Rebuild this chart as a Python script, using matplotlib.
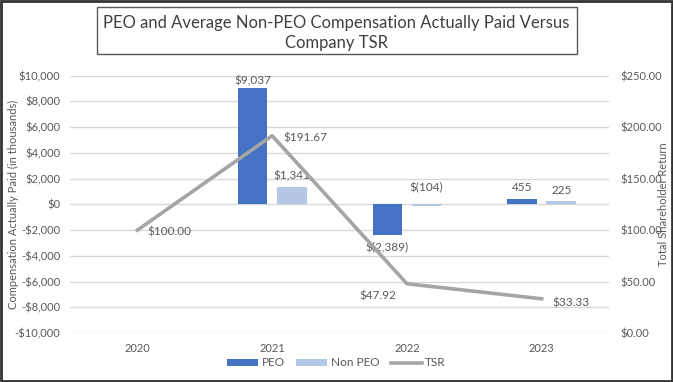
import numpy as np
import matplotlib.pyplot as plt
from matplotlib.patches import Rectangle
from matplotlib.ticker import FuncFormatter

plt.rcParams['font.family'] = ['Lato', 'DejaVu Sans']

years = ["2020", "2021", "2022", "2023"]
peo = [np.nan, 9037, -2389, 455]
non_peo = [np.nan, 1341, -104, 225]
tsr = [100.00, 191.67, 47.92, 33.33]
peo_labels = ["", "$9,037", "$(2,389)", "455"]
non_peo_labels = ["", "$1,341", "$(104)", "225"]
tsr_labels = ["$100.00", "$191.67", "$47.92", "$33.33"]

blue = "#4472C4"
light_blue = "#B4C7E7"
grey_line = "#A5A5A5"
txt = "#595959"

fig = plt.figure(figsize=(6.73, 3.82), dpi=100)
ax = fig.add_axes([0.104, 0.128, 0.801, 0.674])
ax2 = ax.twinx()

x = np.arange(len(years))
w = 0.22
ax.bar(x - 0.145, peo, w, color=blue, label="PEO", zorder=2)
ax.bar(x + 0.145, non_peo, w, color=light_blue, label="Non PEO", zorder=2)
ax2.plot(x, tsr, color=grey_line, lw=2.6, label="TSR", zorder=3)

# bar labels, offsets in points
peo_dy = [0, 5, -9, 8]
non_dy = [0, 8, 12, 8]
for i in range(len(years)):
    for off, val, lab, dy in [(-0.145, peo[i], peo_labels[i], peo_dy[i]),
                              (0.145, non_peo[i], non_peo_labels[i], non_dy[i])]:
        if not lab:
            continue
        base = val if (dy < 0 or val > 0) else 0
        ax.annotate(lab, (x[i] + off, base), xytext=(0, dy), textcoords="offset points",
                    ha="center", va="center", fontsize=8.5, color=txt)

# TSR labels
tsr_off = [(7, -1, "left"), (8, -2, "left"), (-8, -9, "right"), (8, -3, "left")]
for i, lab in enumerate(tsr_labels):
    dx, dy, ha = tsr_off[i]
    ax2.annotate(lab, (x[i], tsr[i]), xytext=(dx, dy), textcoords="offset points",
                 ha=ha, va="center", fontsize=8.5, color=txt)

ax.set_xlim(-0.5, 3.5)
ax.set_ylim(-10000, 10000)
ax.set_yticks(np.arange(-10000, 10001, 2000))
ax2.set_ylim(0, 250)
ax2.set_yticks(np.arange(0, 251, 50))

def left_fmt(v, pos):
    v = int(round(v))
    if v < 0:
        return "-${:,}".format(-v)
    return "${:,}".format(v)

ax.yaxis.set_major_formatter(FuncFormatter(left_fmt))
ax2.yaxis.set_major_formatter(FuncFormatter(lambda v, p: "${:,.2f}".format(v)))
ax.set_xticks(x)
ax.set_xticklabels(years)

ax.grid(axis="y", color="#D9D9D9", lw=1, zorder=0)
ax.set_axisbelow(True)
for a in (ax, ax2):
    for s in a.spines.values():
        s.set_visible(False)
    a.tick_params(length=0, labelsize=8, colors=txt)
ax.tick_params(axis="y", pad=7)
ax.tick_params(axis="x", pad=7)
ax2.tick_params(axis="y", pad=8)

ax.set_ylabel("Compensation Actually Paid (in thousands)", fontsize=8, color=txt)
ax.yaxis.set_label_coords(-0.094, 0.5)
ax2.set_ylabel("Total Shareholder Return", fontsize=8, color=txt)
ax2.yaxis.set_label_coords(1.09, 0.5)

# title in a box
fig.text(0.5, 0.913, "PEO and Average Non-PEO Compensation Actually Paid Versus\nCompany TSR",
         ha="center", va="center", fontsize=12, color="#404040", linespacing=1.3)
fig.patches.append(Rectangle((0.144, 0.859), 0.713, 0.123, transform=fig.transFigure,
                             fill=False, edgecolor="#595959", lw=1))

h1, l1 = ax.get_legend_handles_labels()
h2, l2 = ax2.get_legend_handles_labels()
fig.legend(h1 + h2, l1 + l2, loc="center", bbox_to_anchor=(0.5, 0.05), ncol=3, frameon=False,
           fontsize=8.5, labelcolor=txt, handlelength=2.6, handleheight=0.5, columnspacing=1.0,
           handletextpad=0.3)

# outer border
fig.patches.append(Rectangle((0.002, 0.003), 0.996, 0.994, transform=fig.transFigure,
                             fill=False, edgecolor="#333333", lw=2))

fig.savefig("out.png", dpi=100)
